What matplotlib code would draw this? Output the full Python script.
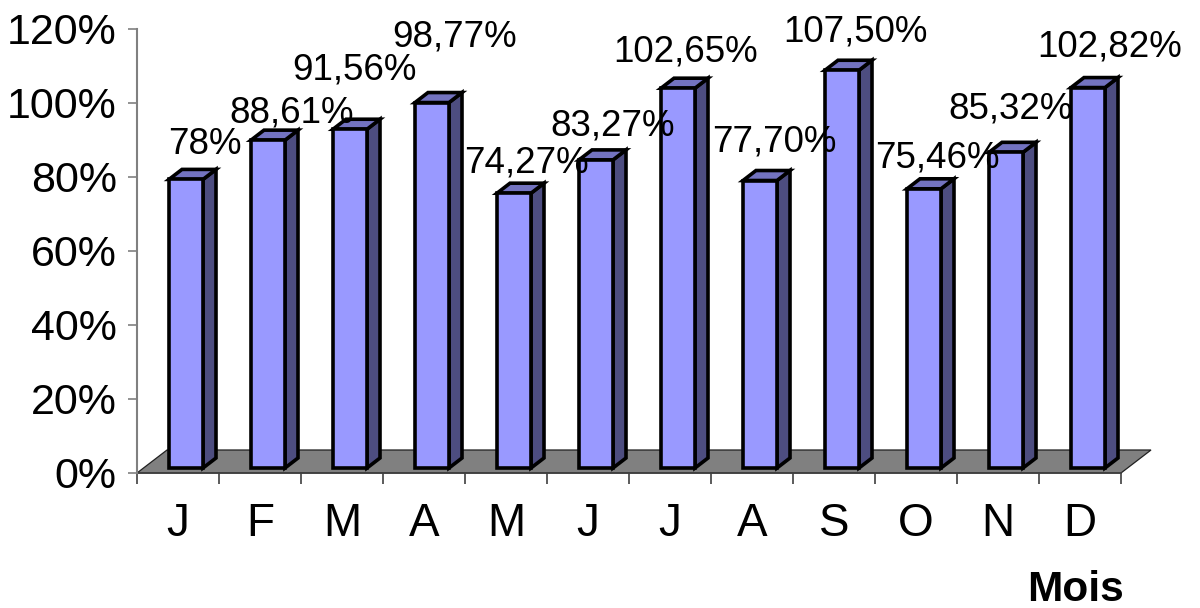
import matplotlib
matplotlib.use('Agg')
import matplotlib.pyplot as plt
from matplotlib.patches import Polygon

plt.rcParams['font.family'] = ['Liberation Sans', 'DejaVu Sans']

# data
months = ['J', 'F', 'M', 'A', 'M', 'J', 'J', 'A', 'S', 'O', 'N', 'D']
taux = [78.0, 88.61, 91.56, 98.77, 74.27, 83.27, 102.65, 77.70, 107.50, 75.46, 85.32, 102.82]
labels = ['78%', '88,61%', '91,56%', '98,77%', '74,27%', '83,27%',
          '102,65%', '77,70%', '107,50%', '75,46%', '85,32%', '102,82%']
yticks = [0, 20, 40, 60, 80, 100, 120]

# label nudges (pixels) to mimic the way Excel placed them
lab_dx = [19, 24, 4, 23, 12, 17, 8, 14, 13, 13, 5, 22]
lab_gap = [15, 8, 40, 46, 11, 14, 17, 19, 19, 11, 24, 21]

# pixel geometry of the plot box
PX_CAT = 82.0    # px per category
PX_UNIT = 370.0  # px per 100%


def px_x(p):
    return p / PX_CAT


def px_y(p):
    return p / PX_UNIT


fig = plt.figure(figsize=(12, 6.08), dpi=100)
ax = fig.add_axes([137 / 1200, (608 - 473) / 608, 984 / 1200, 444 / 608])
ax.set_xlim(0, 12)
ax.set_ylim(0, 1.2)

# floor
fdx, fdy = px_x(30), px_y(23)
floor = Polygon([(0, 0), (12, 0), (12 + fdx, fdy), (fdx, fdy)], closed=True,
                facecolor='#808080', edgecolor='#202020', lw=0.9, clip_on=False, zorder=1)
ax.add_patch(floor)

# bars
front_c, side_c, top_c = '#9999FF', '#4D4D80', '#7373C0'
w = px_x(34)
ddx, ddy = px_x(13), px_y(10)
y0 = px_y(5)
for i, val in enumerate(taux):
    v = val / 100.0
    x0 = i + px_x(32)
    front = [(x0, y0), (x0 + w, y0), (x0 + w, y0 + v), (x0, y0 + v)]
    side = [(x0 + w, y0), (x0 + w + ddx, y0 + ddy), (x0 + w + ddx, y0 + v + ddy), (x0 + w, y0 + v)]
    top = [(x0, y0 + v), (x0 + w, y0 + v), (x0 + w + ddx, y0 + v + ddy), (x0 + ddx, y0 + v + ddy)]
    for pts, col in ((side, side_c), (top, top_c), (front, front_c)):
        ax.add_patch(Polygon(pts, closed=True, facecolor=col, edgecolor='black',
                             lw=2.6, joinstyle='miter', clip_on=False, zorder=3))
    ax.annotate(labels[i], xy=(i + 0.5, v), xytext=((8 + lab_dx[i]) * 0.72, (15 + lab_gap[i]) * 0.72),
                textcoords='offset points', ha='center', va='baseline', fontsize=26.5,
                annotation_clip=False, zorder=5)

# axes styling
for s in ['top', 'right']:
    ax.spines[s].set_visible(False)
ax.spines['left'].set_color('#808080')
ax.spines['left'].set_linewidth(1.5)
ax.spines['bottom'].set_color('#404040')
ax.spines['bottom'].set_linewidth(1.2)
ax.spines['bottom'].set_zorder(2)

ax.set_yticks([t / 100 for t in yticks])
ax.set_yticklabels([f'{t}%' for t in yticks])
ax.tick_params(axis='y', direction='out', length=6.5, width=1.2, color='#808080',
               labelsize=31, pad=8)

ax.set_xticks(range(13))
ax.set_xticklabels([])
ax.set_xticks([i + 0.5 for i in range(12)], minor=True)
ax.set_xticklabels(months, minor=True)
ax.tick_params(axis='x', which='major', direction='out', length=8, width=1.2, color='#404040')
ax.tick_params(axis='x', which='minor', length=0, labelsize=33, pad=21)

fig.text(1124 / 1200, 7 / 608, 'Mois', ha='right', va='baseline', fontsize=30.5, fontweight='bold')

fig.savefig('out.png', dpi=100)
